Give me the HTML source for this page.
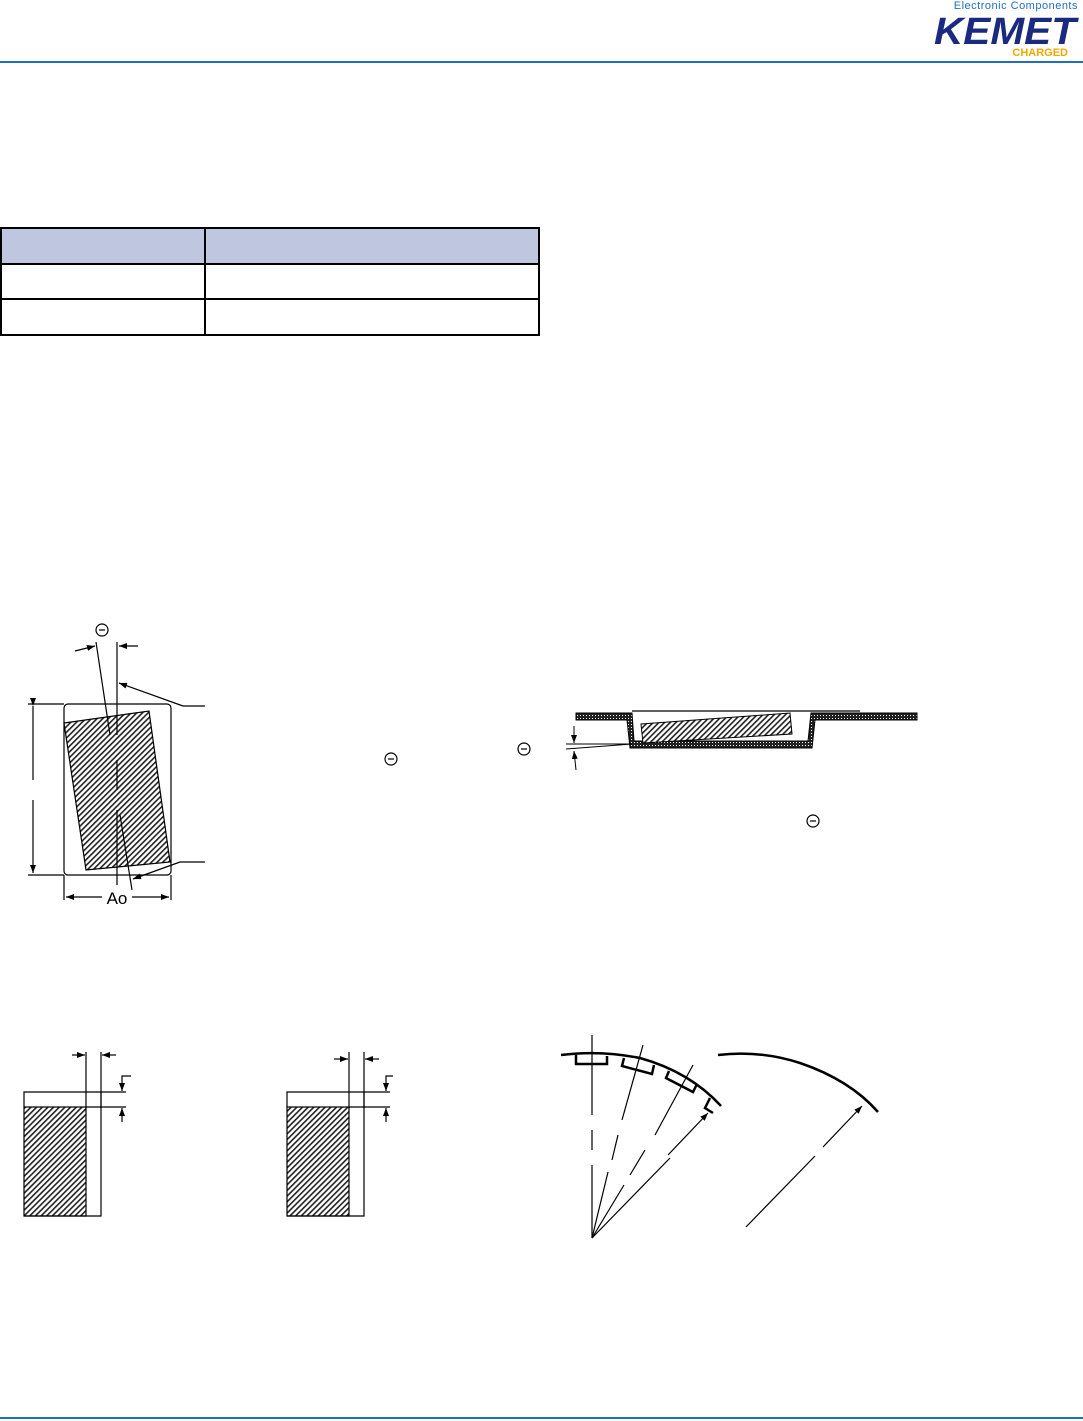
<!DOCTYPE html>
<html><head><meta charset="utf-8"><style>
html,body{margin:0;padding:0;background:#fff;}
body{width:1083px;height:1421px;position:relative;overflow:hidden;font-family:"Liberation Sans",sans-serif;}
</style></head><body>
<svg width="1083" height="1421" viewBox="0 0 1083 1421" xmlns="http://www.w3.org/2000/svg" style="position:absolute;left:0;top:0">
<defs>
<pattern id="h" width="4" height="4" patternUnits="userSpaceOnUse" patternTransform="rotate(45)">
<rect width="4" height="4" fill="#fff"/><rect width="1.6" height="4" fill="#222"/></pattern>
<pattern id="d" width="3" height="3" patternUnits="userSpaceOnUse">
<rect width="3" height="3" fill="#222"/><rect x="1" y="1" width="1" height="1" fill="#fff"/></pattern>
<marker id="a" markerWidth="8" markerHeight="6" refX="8" refY="3" orient="auto" markerUnits="userSpaceOnUse"><path d="M0,0 L8,3 L0,6z" fill="#000"/></marker>
</defs>
<!-- header -->
<text x="1078" y="9" font-size="11" fill="#1f6fc0" text-anchor="end" font-family="Liberation Sans,sans-serif" letter-spacing="0.5">Electronic Components</text>
<text x="1076" y="44" font-size="38" font-weight="bold" font-style="italic" fill="#1a2a80" text-anchor="end" textLength="142" lengthAdjust="spacingAndGlyphs">KEMET</text>
<text x="1068" y="56" font-size="11" font-weight="bold" fill="#f0a800" text-anchor="end">CHARGED</text>
<rect x="0" y="61" width="1083" height="2" fill="#1f6fc0"/>
<rect x="0" y="1417" width="1083" height="2" fill="#1f6fc0"/>
<!-- table -->
<rect x="1" y="228" width="538" height="36" fill="#bfc6e0"/>
<g stroke="#000" stroke-width="2" fill="none">
<rect x="1" y="228" width="538" height="107"/>
<line x1="1" y1="264" x2="539" y2="264"/><line x1="1" y1="299" x2="539" y2="299"/>
<line x1="205" y1="228" x2="205" y2="335"/>
</g>
<!-- left figure -->
<g stroke="#000" stroke-width="1.2" fill="none">
<rect x="64" y="704" width="107" height="171" rx="4"/>
<polygon points="64,723 149,711 170,862 86,870" fill="url(#h)"/>
<line x1="28" y1="704" x2="64" y2="704"/><line x1="28" y1="875" x2="64" y2="875"/>
<line x1="33" y1="706" x2="33" y2="780" marker-start="url(#a)"/>
<line x1="33" y1="800" x2="33" y2="873" marker-end="url(#a)"/>
<line x1="64" y1="875" x2="64" y2="900"/><line x1="171" y1="875" x2="171" y2="900"/>
<line x1="102" y1="897" x2="66" y2="897" marker-end="url(#a)"/>
<line x1="132" y1="897" x2="169" y2="897" marker-end="url(#a)"/>
<line x1="117" y1="642" x2="117" y2="735"/><line x1="117" y1="760" x2="117" y2="790"/><line x1="117" y1="810" x2="117" y2="885"/>
<line x1="96" y1="642" x2="110" y2="735"/><line x1="120" y1="815" x2="132" y2="890"/>
<line x1="75" y1="651" x2="95" y2="646" marker-end="url(#a)"/>
<line x1="138" y1="646" x2="119" y2="646" marker-end="url(#a)"/>
<polyline points="183,706 205,706"/><line x1="183" y1="706" x2="119" y2="683" marker-end="url(#a)"/>
<polyline points="180,862 205,862"/><line x1="180" y1="862" x2="133" y2="879" marker-end="url(#a)"/>
<circle cx="102" cy="630" r="6"/><line x1="99" y1="630" x2="105" y2="630"/>
<circle cx="391" cy="759" r="6"/><line x1="388" y1="759" x2="394" y2="759"/>
<circle cx="524" cy="749" r="6"/><line x1="521" y1="749" x2="527" y2="749"/>
<circle cx="813" cy="821" r="6"/><line x1="810" y1="821" x2="816" y2="821"/>
</g>
<text x="117" y="904" font-size="17" text-anchor="middle">Ao</text>
<!-- carrier tape -->
<path d="M576,713 H632 L634,741 H808 L811,713 H917 V720 H815 L812,748 H630 L627,720 H576 Z" fill="url(#d)" stroke="#000" stroke-width="1"/>
<line x1="632" y1="711" x2="860" y2="711" stroke="#000" stroke-width="1.2"/>
<polygon points="641,724 790,713 792,734 643,743" fill="url(#h)" stroke="#000" stroke-width="1"/>
<g stroke="#000" stroke-width="1" fill="none">
<line x1="566" y1="744" x2="632" y2="744"/><line x1="566" y1="749" x2="632" y2="744"/>
<line x1="574" y1="726" x2="574" y2="743" marker-end="url(#a)"/>
<line x1="576" y1="770" x2="574" y2="751" marker-end="url(#a)"/>
</g>
<!-- bottom left boxes -->
<g stroke="#000" stroke-width="1.2" fill="none">
<rect x="24" y="1107" width="62" height="109" fill="url(#h)"/>
<polyline points="24,1107 24,1092 101,1092 101,1216 24,1216"/>
<line x1="86" y1="1052" x2="86" y2="1108"/><line x1="101" y1="1052" x2="101" y2="1108"/>
<line x1="72" y1="1055" x2="85" y2="1055" marker-end="url(#a)"/><line x1="116" y1="1055" x2="102" y2="1055" marker-end="url(#a)"/>
<line x1="101" y1="1092" x2="126" y2="1092"/><line x1="86" y1="1107" x2="126" y2="1107"/>
<polyline points="131,1076 122,1076 122,1091" marker-end="url(#a)"/><line x1="122" y1="1122" x2="122" y2="1108" marker-end="url(#a)"/>
<rect x="287" y="1107" width="62" height="109" fill="url(#h)"/>
<polyline points="287,1107 287,1092 364,1092 364,1216 287,1216"/>
<line x1="349" y1="1052" x2="349" y2="1108"/><line x1="364" y1="1052" x2="364" y2="1108"/>
<line x1="334" y1="1059" x2="348" y2="1059" marker-end="url(#a)"/><line x1="379" y1="1059" x2="365" y2="1059" marker-end="url(#a)"/>
<line x1="364" y1="1092" x2="390" y2="1092"/><line x1="349" y1="1107" x2="390" y2="1107"/>
<polyline points="393,1076 386,1076 386,1091" marker-end="url(#a)"/><line x1="386" y1="1122" x2="386" y2="1108" marker-end="url(#a)"/>
</g>
<!-- arcs -->
<g stroke="#000" fill="none">
<path d="M561,1055 Q600,1050 640,1058 Q690,1072 721,1106" stroke-width="2.5"/>
<path d="M576,1055 V1064 H607 V1056" stroke-width="2.5"/>
<path d="M624,1058 L622,1066 L652,1074 L654,1065" stroke-width="2.5"/>
<path d="M669,1071 L666,1078 L693,1092 L697,1084" stroke-width="2.5"/>
<path d="M710,1098 L705,1108 L713,1113" stroke-width="2.5"/>
<path d="M718,1055 Q760,1050 800,1063 Q850,1080 878,1112" stroke-width="2.5"/>
<g stroke-width="1.2">
<line x1="592" y1="1035" x2="592" y2="1115"/><line x1="592" y1="1130" x2="592" y2="1150"/><line x1="592" y1="1165" x2="592" y2="1238"/>
<line x1="643" y1="1045" x2="622" y2="1120"/><line x1="618" y1="1135" x2="612" y2="1160"/><line x1="608" y1="1172" x2="592" y2="1238"/>
<line x1="693" y1="1065" x2="655" y2="1135"/><line x1="645" y1="1150" x2="630" y2="1175"/><line x1="624" y1="1185" x2="592" y2="1238"/>
<line x1="592" y1="1238" x2="670" y2="1158"/><line x1="668" y1="1155" x2="708" y2="1113" marker-end="url(#a)"/>
<line x1="746" y1="1227" x2="815" y2="1156"/><line x1="823" y1="1147" x2="862" y2="1106" marker-end="url(#a)"/>
</g></g>
</svg>
</body></html>
